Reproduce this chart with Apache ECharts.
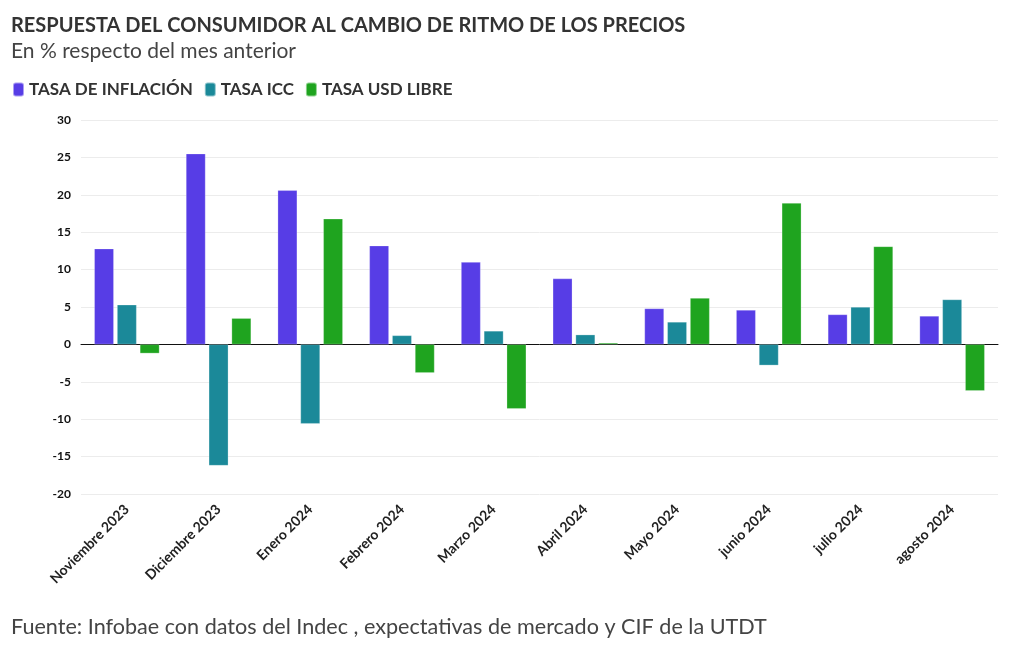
<!DOCTYPE html>
<html>
<head>
<meta charset="utf-8">
<script src="https://cdn.jsdelivr.net/npm/echarts@6/dist/echarts.min.js"></script>
<style>
html,body{margin:0;padding:0;background:#fff;}
#c{width:1020px;height:650px;}
</style>
</head>
<body>
<div id="c"></div>
<script>
const categories = ["Noviembre 2023","Diciembre 2023","Enero 2024","Febrero 2024","Marzo 2024","Abril 2024","Mayo 2024","junio 2024","julio 2024","agosto 2024"];
const inflacion = [12.8, 25.5, 20.6, 13.2, 11.0, 8.8, 4.8, 4.6, 4.0, 3.8];
const icc = [5.3, -16.2, -10.6, 1.2, 1.8, 1.3, 3.0, -2.8, 5.0, 6.0];
const usdLibre = [-1.2, 3.5, 16.8, -3.8, -8.6, 0.2, 6.2, 18.9, 13.1, -6.2];
const yTicks = [-20, -15, -10, -5, 0, 5, 10, 15, 20, 25, 30];

const FONT = 'Lato';
const chart = echarts.init(document.getElementById('c'), null, {renderer:'canvas'});
const bar = (name, data, color) => ({
  name, type:'bar', data, barWidth:19.5, barGap:'17%',
  itemStyle:{color, borderColor:'rgba(255,255,255,0.5)', borderWidth:0.5},
  emphasis:{disabled:true}
});
chart.setOption({
  animation:false,
  textStyle:{fontFamily:FONT},
  title:[
    {text:'RESPUESTA DEL CONSUMIDOR AL CAMBIO DE RITMO DE LOS PRECIOS', left:6, top:11,
     textStyle:{fontFamily:FONT, fontSize:20, fontWeight:'bold', color:'#333'}},
    {text:'En % respecto del mes anterior', left:6, top:36,
     textStyle:{fontFamily:FONT, fontSize:21, fontWeight:'normal', color:'#444'}},
    {text:'Fuente: Infobae con datos del Indec , expectativas de mercado y CIF de la UTDT', left:6, top:611,
     textStyle:{fontFamily:FONT, fontSize:21.6, fontWeight:'normal', color:'#444'}}
  ],
  legend:{left:7, top:76, icon:'roundRect', itemWidth:11, itemHeight:14, itemGap:11,
    textStyle:{fontFamily:FONT, fontSize:17, fontWeight:'bold', color:'#333'},
    data:['TASA DE INFLACIÓN','TASA ICC','TASA USD LIBRE']},
  grid:{left:81, right:22, top:120, bottom:156, containLabel:false},
  xAxis:{type:'category', data:categories,
    axisLine:{lineStyle:{color:'#111', width:1}},
    axisTick:{alignWithLabel:true, length:5, lineStyle:{color:'#333'}},
    axisLabel:{rotate:45, fontFamily:FONT, fontSize:14, fontWeight:'bold', color:'#222', margin:13, interval:0}},
  yAxis:{type:'value', min:-20, max:30, interval:5,
    axisLine:{show:false}, axisTick:{show:false},
    splitLine:{lineStyle:{color:'#ececec', width:1}},
    axisLabel:{fontFamily:FONT, fontSize:12, fontWeight:'bold', color:'#111', margin:10,
      formatter:v => yTicks.includes(v) ? String(v) : ''}},
  series:[
    bar('TASA DE INFLACIÓN', inflacion, '#573de6'),
    bar('TASA ICC', icc, '#1b8999'),
    bar('TASA USD LIBRE', usdLibre, '#1fa41f')
  ]
});
</script>
</body>
</html>
